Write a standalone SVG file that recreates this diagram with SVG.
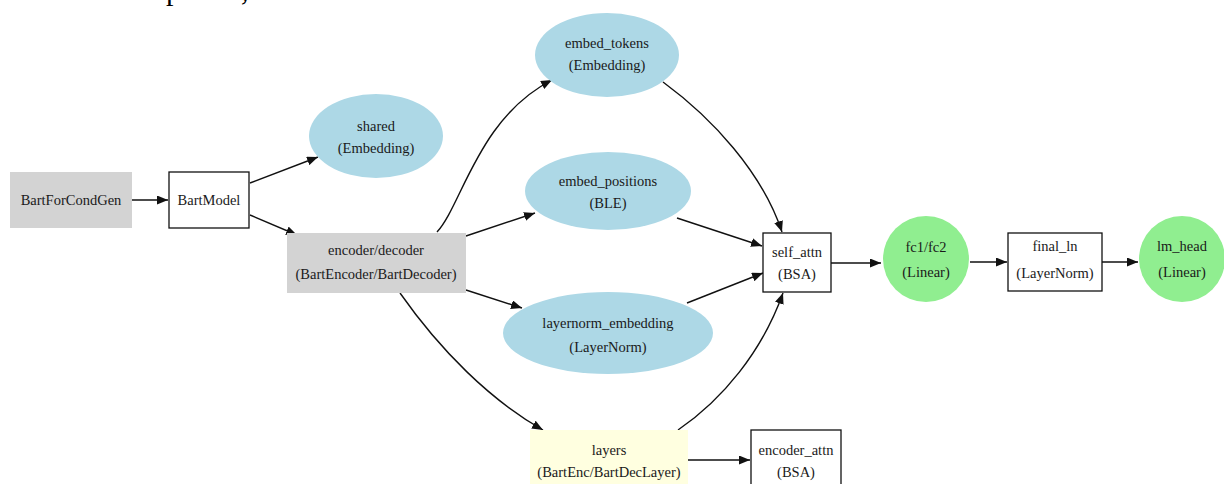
<svg xmlns="http://www.w3.org/2000/svg" width="1224" height="484" viewBox="0 0 1224 484">
<defs>
<style>
text{font-family:"Liberation Serif","Times New Roman",serif;font-size:14.5px;fill:#1a1a1a;text-anchor:middle}
.top{font-size:30px;text-anchor:start;fill:#000}
.gray{fill:#d3d3d3}
.box{fill:#fff;stroke:#111;stroke-width:1.3}
.blue{fill:#add8e6}
.green{fill:#90ee90}
.yellow{fill:#ffffe0}
.edge{fill:none;stroke:#111;stroke-width:1.4;marker-end:url(#arr)}
</style>
<marker id="arr" markerUnits="userSpaceOnUse" markerWidth="12" markerHeight="9" refX="11" refY="4.5" orient="auto">
<path d="M0,0 L11,4.5 L0,9 z" fill="#111"/>
</marker>
</defs>
<rect width="1224" height="484" fill="#fff"/>
<text class="top" x="166" y="0">p</text>
<text class="top" x="241" y="0">,</text>

<g id="connectors">
<path class="edge" d="M132,200 L168,200"/>
<path class="edge" d="M250,183 L318,157"/>
<path class="edge" d="M250,215 L297,235"/>
<path class="edge" d="M437,232 C462,205 478,118 552,80"/>
<path class="edge" d="M466,236 L535,213"/>
<path class="edge" d="M466,290 L522,308"/>
<path class="edge" d="M400,293 C440,350 490,400 543,430"/>
<path class="edge" d="M663,82 C712,118 762,172 782,232"/>
<path class="edge" d="M677,218 L762,246"/>
<path class="edge" d="M687,303 L763,273"/>
<path class="edge" d="M678,430 C722,400 762,352 783,293"/>
<path class="edge" d="M831,263 L881,263"/>
<path class="edge" d="M970,262 L1007,262"/>
<path class="edge" d="M1102,262 L1138,262"/>
<path class="edge" d="M688,460 L750,460"/>
</g>

<g id="n_bartforcondgen">
<rect class="gray" x="10" y="172" width="122" height="56"/>
<text x="71" y="205">BartForCondGen</text>
</g>
<g id="n_bartmodel">
<rect class="box" x="169" y="172" width="80" height="56"/>
<text x="209" y="205">BartModel</text>
</g>
<g id="n_shared">
<ellipse class="blue" cx="376" cy="136" rx="67" ry="42"/>
<text x="376" y="131">shared</text>
<text x="376" y="153">(Embedding)</text>
</g>
<g id="n_encoder_decoder">
<rect class="gray" x="287" y="233" width="179" height="60"/>
<text x="376" y="255">encoder/decoder</text>
<text x="376" y="279">(BartEncoder/BartDecoder)</text>
</g>
<g id="n_embed_tokens">
<ellipse class="blue" cx="607" cy="55" rx="72" ry="42"/>
<text x="607" y="48">embed_tokens</text>
<text x="607" y="70">(Embedding)</text>
</g>
<g id="n_embed_positions">
<ellipse class="blue" cx="608" cy="191" rx="83" ry="39"/>
<text x="608" y="186">embed_positions</text>
<text x="608" y="208">(BLE)</text>
</g>
<g id="n_layernorm_embedding">
<ellipse class="blue" cx="608" cy="333" rx="105" ry="41"/>
<text x="608" y="328">layernorm_embedding</text>
<text x="608" y="352">(LayerNorm)</text>
</g>
<g id="n_layers">
<rect class="yellow" x="530" y="430" width="158" height="60"/>
<text x="609" y="455">layers</text>
<text x="609" y="477">(BartEnc/BartDecLayer)</text>
</g>
<g id="n_encoder_attn">
<rect class="box" x="751" y="430" width="90" height="60"/>
<text x="796" y="455">encoder_attn</text>
<text x="796" y="477">(BSA)</text>
</g>
<g id="n_self_attn">
<rect class="box" x="763" y="233" width="68" height="59"/>
<text x="797" y="257">self_attn</text>
<text x="797" y="279">(BSA)</text>
</g>
<g id="n_fc">
<circle class="green" cx="926" cy="259" r="43"/>
<text x="926" y="252">fc1/fc2</text>
<text x="926" y="277">(Linear)</text>
</g>
<g id="n_final_ln">
<rect class="box" x="1008" y="233" width="94" height="58"/>
<text x="1055" y="251">final_ln</text>
<text x="1055" y="278">(LayerNorm)</text>
</g>
<g id="n_lm_head">
<circle class="green" cx="1182" cy="259" r="43"/>
<text x="1182" y="251">lm_head</text>
<text x="1182" y="277">(Linear)</text>
</g>
</svg>
